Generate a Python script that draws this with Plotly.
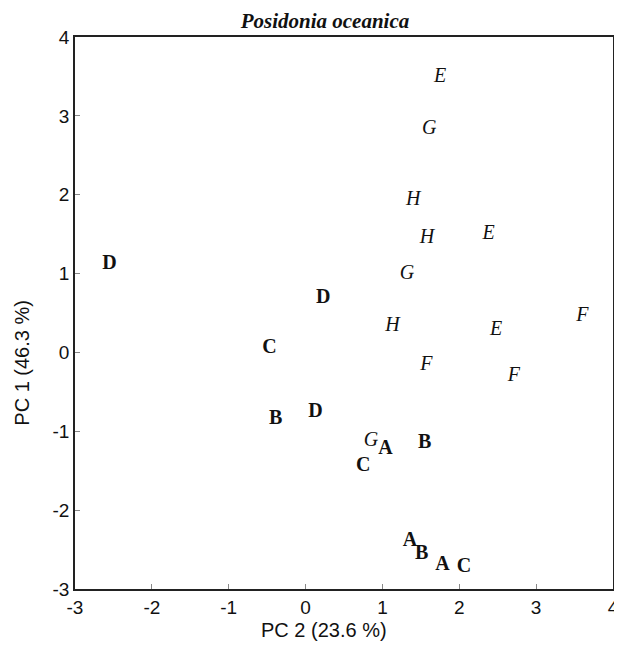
import plotly.graph_objects as go

# Upright bold sample labels (A-D)
bold_labels = ["D", "D", "C", "B", "D", "A", "B", "C", "A", "B", "A", "C"]
bold_pc2 = [-2.55, 0.23, -0.47, -0.39, 0.13, 1.04, 1.55, 0.75, 1.36, 1.51, 1.78, 2.06]
bold_pc1 = [1.12, 0.69, 0.06, -0.84, -0.75, -1.23, -1.15, -1.44, -2.39, -2.55, -2.69, -2.72]

# Italic sample labels (E-H)
ital_labels = ["E", "G", "H", "H", "E", "G", "F", "H", "E", "F", "F", "G"]
ital_pc2 = [1.75, 1.61, 1.40, 1.58, 2.38, 1.32, 3.60, 1.13, 2.48, 1.57, 2.71, 0.85]
ital_pc1 = [3.49, 2.83, 1.93, 1.45, 1.50, 1.00, 0.46, 0.33, 0.29, -0.16, -0.30, -1.12]

ticks = [-3, -2, -1, 0, 1, 2, 3, 4]

W, H = 614, 640  # page body margin of 8px puts the figure at (8, 8)

fig = go.Figure()
fig.add_trace(go.Scatter(
    x=bold_pc2, y=bold_pc1, text=bold_labels, mode="text",
    textposition="middle center",
    textfont=dict(family="Liberation Serif", size=20, color="#111111", weight="bold"),
    hoverinfo="skip", showlegend=False, cliponaxis=False,
))
fig.add_trace(go.Scatter(
    x=ital_pc2, y=ital_pc1, text=ital_labels, mode="text",
    textposition="middle center",
    textfont=dict(family="Liberation Serif", size=20, color="#111111", style="italic"),
    hoverinfo="skip", showlegend=False, cliponaxis=False,
))

axis_common = dict(
    tickvals=ticks, ticktext=[str(t) for t in ticks],
    showgrid=False, zeroline=False, automargin=False,
    showline=True, linecolor="#222222", linewidth=1.5, mirror=True,
    ticks="inside", ticklen=5, tickwidth=1, tickcolor="#888888",
    tickfont=dict(family="Liberation Sans", size=19, color="#111111"),
)

fig.update_xaxes(range=[-3, 4], **axis_common)
fig.update_yaxes(range=[-3, 4], **axis_common)

title_font = dict(family="Liberation Sans", size=20, color="#111111")
fig.add_annotation(
    text="PC 2 (23.6 %)", xref="paper", yref="paper", x=0.4626, y=0,
    xanchor="center", yanchor="middle", yshift=-41, showarrow=False, font=title_font,
)
fig.add_annotation(
    text="PC 1 (46.3 %)", xref="paper", yref="paper", x=0, y=0.41,
    xanchor="center", yanchor="middle", xshift=-53, textangle=-90,
    showarrow=False, font=title_font,
)

fig.update_layout(
    width=W, height=H,
    margin=dict(l=67, r=9, t=29, b=59),
    paper_bgcolor="white", plot_bgcolor="white",
    title=dict(
        text="<b><i>Posidonia oceanica</i></b>",
        font=dict(family="Liberation Serif", size=21, color="#111111"),
        x=317 / W, xref="container", xanchor="center",
        y=1, yref="container", yanchor="top", pad=dict(t=5),
    ),
)

fig.write_html("out.html")
